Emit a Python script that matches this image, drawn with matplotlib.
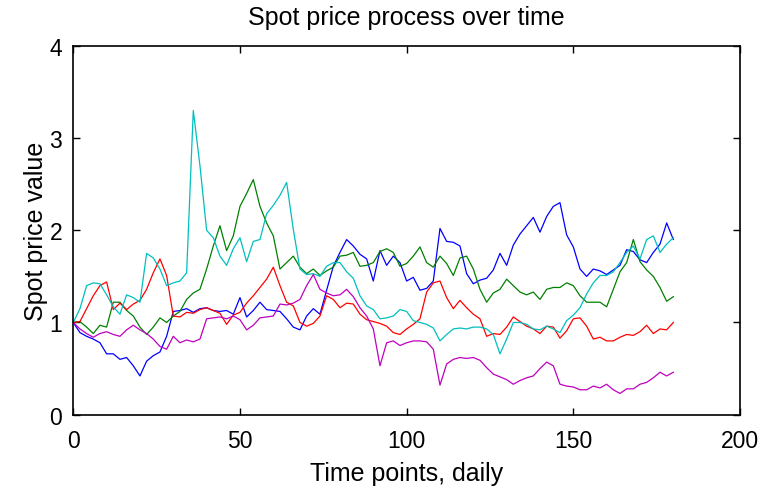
import numpy as np
import matplotlib
matplotlib.use("Agg")
import matplotlib.pyplot as plt

plt.rcParams['font.family'] = ['Liberation Sans', 'DejaVu Sans']

t = np.arange(0, 182, 2)

blue = [1.00, 0.89, 0.85, 0.82, 0.78, 0.66, 0.66, 0.60, 0.62, 0.53,
        0.42, 0.58, 0.64, 0.68, 0.85, 1.12, 1.13, 1.15, 1.11, 1.15,
        1.16, 1.13, 1.12, 1.13, 1.09, 1.27, 1.06, 1.13, 1.22, 1.14,
        1.13, 1.12, 1.04, 0.95, 0.92, 1.07, 1.15, 1.09, 1.35, 1.61,
        1.76, 1.90, 1.83, 1.74, 1.69, 1.45, 1.78, 1.62, 1.72, 1.65,
        1.45, 1.49, 1.35, 1.37, 1.45, 2.02, 1.88, 1.87, 1.83, 1.53,
        1.42, 1.46, 1.48, 1.57, 1.75, 1.62, 1.84, 1.96, 2.05, 2.14,
        1.98, 2.15, 2.26, 2.30, 1.95, 1.82, 1.58, 1.50, 1.58, 1.56,
        1.52, 1.57, 1.62, 1.79, 1.77, 1.68, 1.65, 1.76, 1.85, 2.08,
        1.90]

green = [1.00, 1.01, 0.95, 0.88, 0.97, 0.95, 1.22, 1.22, 1.13, 1.07,
         0.95, 0.87, 0.95, 1.05, 1.00, 1.07, 1.12, 1.25, 1.32, 1.36,
         1.58, 1.83, 2.05, 1.78, 1.94, 2.26, 2.40, 2.55, 2.26, 2.08,
         1.94, 1.58, 1.65, 1.72, 1.60, 1.53, 1.58, 1.51, 1.56, 1.60,
         1.72, 1.73, 1.76, 1.61, 1.62, 1.65, 1.77, 1.80, 1.76, 1.61,
         1.64, 1.72, 1.82, 1.65, 1.60, 1.72, 1.64, 1.51, 1.70, 1.72,
         1.58, 1.36, 1.22, 1.32, 1.36, 1.47, 1.40, 1.33, 1.30, 1.33,
         1.25, 1.36, 1.38, 1.38, 1.43, 1.40, 1.29, 1.22, 1.22, 1.22,
         1.17, 1.36, 1.55, 1.65, 1.90, 1.66, 1.57, 1.50, 1.38, 1.23,
         1.28]

red = [1.00, 1.01, 1.15, 1.29, 1.40, 1.44, 1.14, 1.21, 1.14, 1.20,
       1.24, 1.36, 1.54, 1.69, 1.51, 1.07, 1.06, 1.11, 1.10, 1.14,
       1.16, 1.13, 1.10, 0.98, 1.08, 1.11, 1.21, 1.29, 1.38, 1.47,
       1.60, 1.40, 1.22, 1.18, 1.00, 0.96, 0.99, 1.07, 1.29, 1.25,
       1.16, 1.21, 1.20, 1.09, 1.03, 1.01, 0.99, 0.96, 0.89, 0.87,
       0.93, 0.98, 1.04, 1.33, 1.43, 1.45, 1.27, 1.15, 1.24, 1.16,
       1.09, 1.04, 0.85, 0.88, 0.87, 0.95, 1.06, 1.01, 0.96, 0.93,
       0.88, 0.96, 0.95, 0.83, 0.91, 1.04, 1.05, 0.96, 0.82, 0.84,
       0.80, 0.80, 0.84, 0.87, 0.86, 0.90, 0.97, 0.88, 0.93, 0.92,
       1.00]

cyan = [1.00, 1.15, 1.40, 1.43, 1.42, 1.30, 1.17, 1.09, 1.30, 1.27,
        1.22, 1.75, 1.70, 1.58, 1.40, 1.43, 1.45, 1.54, 3.30, 2.70,
        2.00, 1.92, 1.72, 1.62, 1.80, 1.92, 1.66, 1.88, 1.90, 2.18,
        2.27, 2.38, 2.52, 2.01, 1.58, 1.52, 1.53, 1.50, 1.61, 1.65,
        1.65, 1.55, 1.48, 1.29, 1.18, 1.14, 1.04, 1.05, 1.07, 1.14,
        1.12, 1.02, 1.00, 0.98, 0.94, 0.80, 0.87, 0.93, 0.94, 0.93,
        0.95, 0.95, 0.93, 0.87, 0.66, 0.82, 1.00, 1.00, 0.98, 0.93,
        0.92, 0.96, 0.93, 0.89, 1.02, 1.08, 1.16, 1.31, 1.43, 1.51,
        1.51, 1.55, 1.65, 1.76, 1.83, 1.69, 1.90, 1.94, 1.76, 1.85,
        1.92]

magenta = [1.00, 0.93, 0.88, 0.84, 0.88, 0.90, 0.87, 0.85, 0.92, 0.97,
           0.92, 0.88, 0.82, 0.74, 0.71, 0.85, 0.78, 0.81, 0.79, 0.82,
           1.04, 1.05, 1.06, 1.04, 1.07, 1.03, 0.92, 0.97, 1.05, 1.06,
           1.07, 1.20, 1.19, 1.21, 1.25, 1.40, 1.52, 1.36, 1.32, 1.29,
           1.30, 1.36, 1.28, 1.16, 1.07, 0.93, 0.53, 0.78, 0.80, 0.75,
           0.78, 0.80, 0.80, 0.79, 0.71, 0.32, 0.55, 0.60, 0.62, 0.61,
           0.62, 0.59, 0.51, 0.44, 0.41, 0.38, 0.33, 0.37, 0.40, 0.42,
           0.50, 0.57, 0.53, 0.33, 0.31, 0.30, 0.27, 0.27, 0.31, 0.29,
           0.33, 0.27, 0.23, 0.28, 0.28, 0.33, 0.35, 0.40, 0.46, 0.42,
           0.46]

series = [(blue, (0, 0, 1)), (green, (0, 0.5, 0)), (red, (1, 0, 0)),
          (cyan, (0, 0.75, 0.75)), (magenta, (0.75, 0, 0.75))]

fig = plt.figure(figsize=(7.61, 4.89), dpi=100)
ax = fig.add_axes([0.0963, 0.150, 0.9724 - 0.0963, 0.9039 - 0.150])
for vals, col in series:
    ax.plot(t, vals, color=col, lw=0.9)

ax.set_xlim(0, 200)
ax.set_ylim(0, 4)
ax.set_xticks([0, 50, 100, 150, 200])
ax.set_yticks([0, 1, 2, 3, 4])
ax.tick_params(direction='in', top=True, right=True, length=5, width=1,
               labelsize=16.5)
ax.tick_params(axis='x', pad=10)
ax.tick_params(axis='y', pad=8)
for s in ax.spines.values():
    s.set_linewidth(1.2)
ax.set_title('Spot price process over time', fontsize=18, pad=16)
ax.set_xlabel('Time points, daily', fontsize=18, labelpad=7)
ax.set_ylabel('Spot price value', fontsize=18, labelpad=1)

fig.savefig('out.png', dpi=100)
